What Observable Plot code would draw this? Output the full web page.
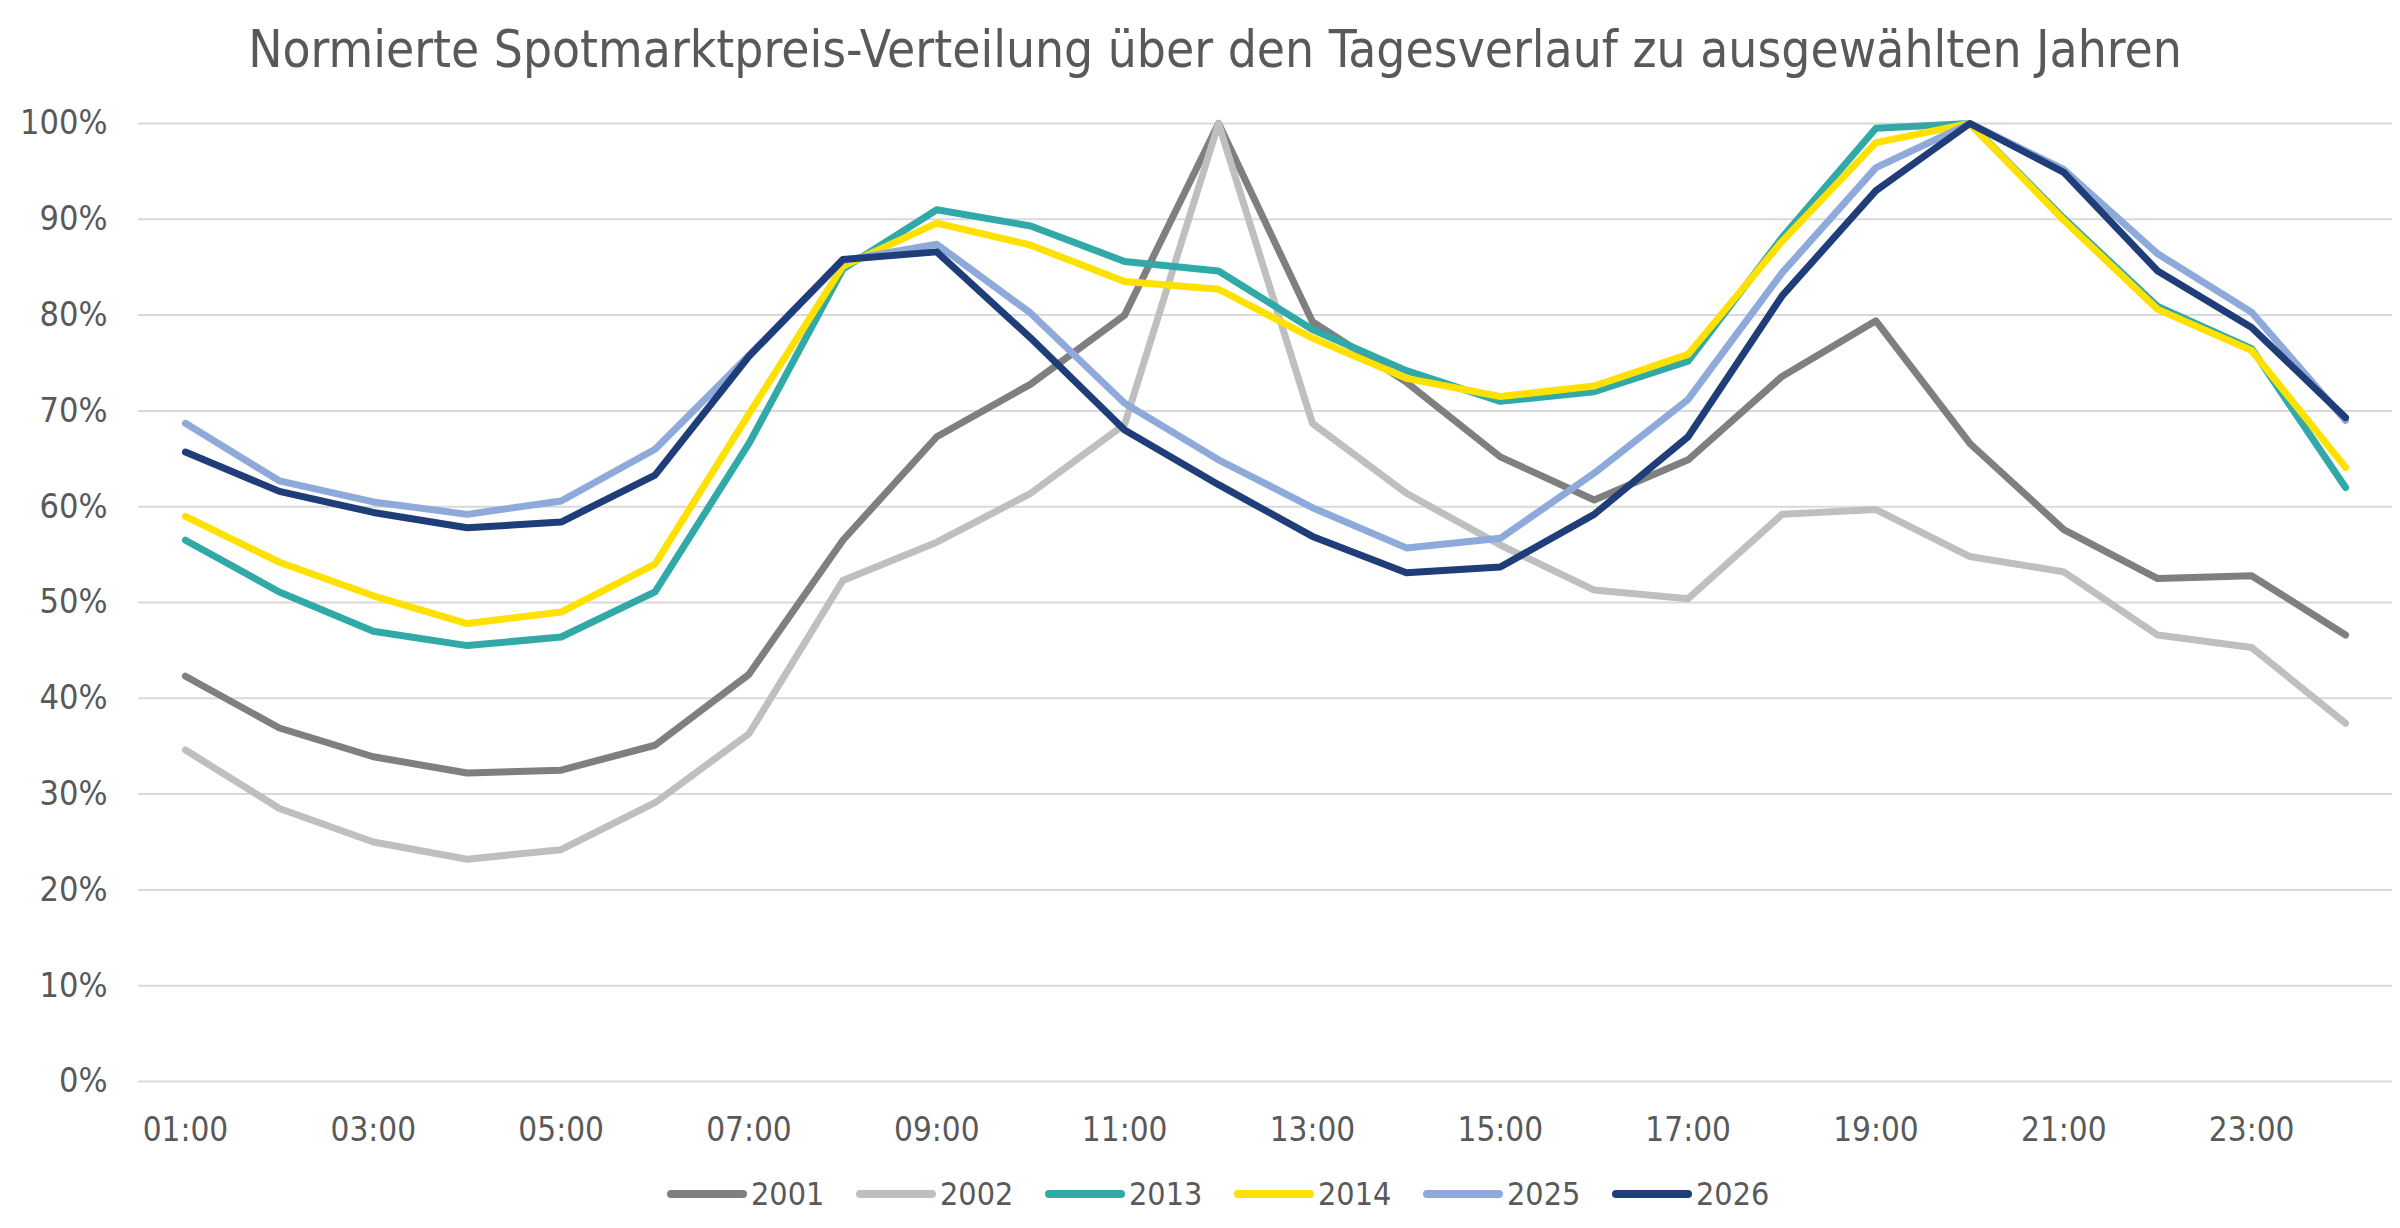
<!DOCTYPE html>
<html>
<head>
<meta charset="utf-8">
<script src="https://cdn.jsdelivr.net/npm/d3@7"></script>
<script src="https://cdn.jsdelivr.net/npm/@observablehq/plot@0.6"></script>
<style>
  html, body { margin: 0; padding: 0; background: #fff; }
  body { width: 2400px; height: 1228px; overflow: hidden; font-family: "DejaVu Sans Condensed", "Noto Sans", sans-serif; color: #595959; }
  #title { height: 95px; line-height: 100px; font-size: 51px; text-align: center; padding-left: 30px; box-sizing: border-box; white-space: nowrap; }
  #chart { height: 1065px; }
  #legend { height: 68px; display: flex; align-items: center; padding-left: 667px; box-sizing: border-box; }
  .item { width: 189px; display: flex; align-items: center; font-size: 32px; }
  .sw { width: 80px; height: 8px; border-radius: 4px; margin-right: 4px; }
</style>
</head>
<body>
<div id="title">Normierte Spotmarktpreis-Verteilung über den Tagesverlauf zu ausgewählten Jahren</div>
<div id="chart"></div>
<div id="legend"></div>
<script>
const hours = ["01:00","02:00","03:00","04:00","05:00","06:00","07:00","08:00","09:00","10:00","11:00","12:00",
               "13:00","14:00","15:00","16:00","17:00","18:00","19:00","20:00","21:00","22:00","23:00","24:00"];
const tickHours = ["01:00","03:00","05:00","07:00","09:00","11:00","13:00","15:00","17:00","19:00","21:00","23:00"];
const yTicks = [0,0.1,0.2,0.3,0.4,0.5,0.6,0.7,0.8,0.9,1.0];
const years = ["2001","2002","2013","2014","2025","2026"];
const colors = ["#7f7f7f","#bfbfbf","#31a9a9","#ffe100","#8eaadb","#1f3d78"];

const v2001 = [0.423,0.369,0.339,0.322,0.325,0.351,0.425,0.565,0.673,0.728,0.800,1.000,0.793,0.730,0.652,0.607,0.649,0.736,0.794,0.666,0.576,0.525,0.528,0.466];
const v2002 = [0.346,0.285,0.250,0.232,0.242,0.291,0.363,0.523,0.563,0.614,0.686,1.000,0.687,0.614,0.560,0.513,0.504,0.592,0.597,0.548,0.532,0.466,0.453,0.374];
const v2013 = [0.565,0.511,0.470,0.455,0.464,0.511,0.666,0.848,0.910,0.893,0.856,0.846,0.785,0.742,0.710,0.720,0.752,0.881,0.995,1.000,0.901,0.809,0.765,0.620];
const v2014 = [0.590,0.542,0.507,0.478,0.490,0.540,0.697,0.851,0.896,0.873,0.835,0.827,0.776,0.734,0.715,0.726,0.759,0.877,0.980,1.000,0.899,0.806,0.763,0.641];
const v2025 = [0.687,0.627,0.605,0.592,0.606,0.660,0.758,0.857,0.874,0.802,0.708,0.649,0.599,0.557,0.567,0.635,0.712,0.844,0.954,1.000,0.952,0.864,0.803,0.690];
const v2026 = [0.657,0.616,0.594,0.578,0.584,0.633,0.757,0.858,0.866,0.776,0.680,0.623,0.569,0.531,0.537,0.592,0.673,0.820,0.930,1.000,0.949,0.846,0.787,0.693];

const seriesValues = [v2001, v2002, v2013, v2014, v2025, v2026];
const rows = [];
years.forEach((yr, i) => {
  seriesValues[i].forEach((v, j) => rows.push({year: yr, hour: hours[j], value: v}));
});

const chart = Plot.plot({
  width: 2400,
  height: 1065,
  marginTop: 28,
  marginBottom: 79,
  marginLeft: 138,
  marginRight: 8,
  style: {fontFamily: '"DejaVu Sans Condensed", "Noto Sans", sans-serif', fontSize: "33px", color: "#595959", background: "#fff"},
  x: {type: "point", domain: hours, padding: 0.5, round: false},
  y: {domain: [0, 1]},
  color: {domain: years, range: colors},
  marks: [
    Plot.ruleY(yTicks, {stroke: "#d9d9d9", strokeWidth: 2}),
    Plot.axisY(yTicks, {tickSize: 0, tickPadding: 31, tickFormat: d => Math.round(d * 100) + "%", label: null, fontSize: 34}),
    Plot.axisX(tickHours, {tickSize: 0, tickPadding: 36, label: null, fontSize: 33}),
    Plot.line(rows, {x: "hour", y: "value", z: "year", stroke: "year", strokeWidth: 7, strokeLinejoin: "round", strokeLinecap: "round"})
  ]
});
document.getElementById("chart").appendChild(chart);

const legend = document.getElementById("legend");
years.forEach((yr, i) => {
  const item = document.createElement("div");
  item.className = "item";
  const sw = document.createElement("div");
  sw.className = "sw";
  sw.style.background = colors[i];
  const t = document.createElement("span");
  t.textContent = yr;
  item.appendChild(sw);
  item.appendChild(t);
  legend.appendChild(item);
});
</script>
</body>
</html>
